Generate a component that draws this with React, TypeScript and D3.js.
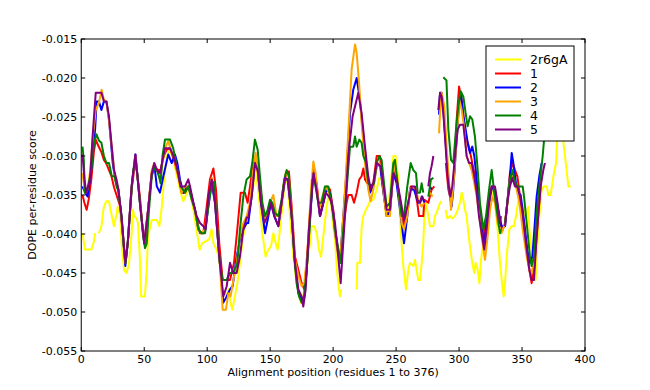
import React from "react";
import * as d3 from "d3";

type Pt = [number, number | null];

const WIDTH = 650;
const HEIGHT = 390;
const MARGIN = { top: 39, right: 65, bottom: 39, left: 81.25 };

// DOPE per-residue profiles, [alignment position, score], null = gap
const template2r6gA: Pt[] = [
  [1,-0.0399],[3,-0.042],[5,-0.042],[8,-0.042],[10,-0.041],[11,-0.0399],[12,null],[14,-0.0399],[16,-0.039],[18,-0.0365],[20,-0.0358],[22,-0.0358],[24,-0.0375],[25,-0.0382],[26,-0.039],[28,-0.0375],[29,-0.0365],[31,-0.0377],[32,-0.0412],[34,-0.0446],[36,-0.045],[38,-0.0437],[40,-0.04],[41,-0.0369],[42,-0.0377],[44,-0.038],[45,-0.0386],[46.5,-0.0429],[47.5,-0.048],[50.5,-0.048],[52,-0.0446],[53,-0.0403],[56,-0.0382],[60,-0.0382],[62,-0.039],[64,-0.0365],[65.5,-0.0335],[68,-0.03],[70.5,-0.0292],[73,-0.0305],[76,-0.0326],[79,-0.0347],[81,-0.0358],[84,-0.0347],[86,-0.0343],[89,-0.0369],[91.5,-0.0394],[94,-0.042],[96,-0.0412],[98,-0.041],[101.5,-0.0407],[103.5,-0.0394],[105,-0.0412],[107.5,-0.042],[110,-0.0437],[112.5,-0.0471],[115.5,-0.048],[117,-0.0471],[118.5,-0.0488],[120,-0.0497],[122,-0.048],[124,-0.0463],[126,-0.0437],[128.5,-0.0403],[131,-0.0386],[133,-0.037],[135.3,-0.0352],[137.5,-0.033],[138.7,-0.0318],[141,-0.0352],[143.8,-0.0399],[146.4,-0.0429],[148.5,-0.042],[150.6,-0.0416],[152.5,-0.0399],[154.4,-0.0412],[156,-0.042],[157.8,-0.0394],[159.7,-0.0365],[161.8,-0.033],[164,-0.0335],[165.7,-0.0377],[168.4,-0.0429],[171,-0.0463],[173,-0.048],[174.5,-0.0488],[176.3,-0.048],[179,-0.0446],[181.6,-0.0412],[183,-0.039],[185,-0.039],[187,-0.0399],[188.8,-0.042],[190.4,-0.0429],[192.2,-0.0403],[194.8,-0.0365],[197.5,-0.0343],[199.5,-0.0382],[201.5,-0.0407],[203,-0.0446],[205.4,-0.048],[206.5,-0.0471],[207.5,null],[218.7,-0.0471],[219.2,-0.0437],[221.3,-0.0437],[222.7,-0.039],[224,-0.0377],[226,-0.0369],[227.3,-0.0365],[229.3,-0.0358],[232,-0.0356],[234.6,-0.0343],[236.7,-0.0328],[238.5,-0.033],[240.4,-0.0352],[242,-0.0377],[243.8,-0.0369],[245.7,-0.0335],[247.8,-0.03],[249.6,-0.03],[251.8,-0.033],[253.6,-0.0394],[255.7,-0.0441],[257.9,-0.0471],[259.7,-0.0446],[261,-0.0437],[263.7,-0.0441],[265,-0.0433],[267.6,-0.0459],[269,-0.0459],[270.3,-0.0437],[271.6,-0.0412],[272.4,-0.0377],[273.5,-0.036],[275.6,-0.0377],[276.9,-0.039],[279.6,-0.039],[280.9,-0.0377],[283,-0.0369],[284.9,-0.036],[286.2,-0.0358],[287.5,null],[289.4,-0.0369],[290.7,-0.038],[292.8,-0.0377],[294.6,-0.038],[296.8,-0.0377],[298.9,-0.0369],[300.7,-0.036],[302.1,-0.0347],[303.4,-0.0356],[304.7,-0.0369],[306,-0.0377],[307.4,-0.0399],[308.7,-0.0416],[310.5,-0.0437],[312.1,-0.045],[313.2,-0.0437],[314.8,-0.0446],[316.1,-0.0463],[317.4,-0.0433],[319.3,-0.0412],[321.1,-0.0386],[323.2,-0.0365],[325.4,-0.0352],[327.2,-0.0343],[328.5,-0.0356],[330.6,-0.0394],[332.5,-0.0437],[334.4,-0.0467],[335.5,-0.048],[336.5,-0.0463],[337.8,-0.0429],[339.9,-0.0394],[341.8,-0.039],[343.6,-0.039],[345.2,-0.0377],[347,-0.0358],[348.9,-0.0358],[350.5,-0.0365],[352.4,-0.0377],[354.2,-0.0369],[355,-0.0365],[355.8,-0.0394],[357.6,-0.042],[359,-0.0459],[360.8,-0.0459],[362.1,-0.0416],[363.7,-0.0377],[365.6,-0.0343],[367.4,-0.0339],[369.6,-0.0339],[370.9,-0.035],[372.7,-0.035],[374.9,-0.0326],[377,-0.0309],[378,-0.0275],[379.6,-0.0262],[380.7,-0.0249],[382.3,-0.0275],[384.1,-0.03],[385.4,-0.0318],[386.8,-0.0339],[388.6,-0.0339],
];

const model1: Pt[] = [
  [1,-0.035],[2.5,-0.036],[4.3,-0.0369],[6,-0.0355],[8,-0.033],[10,-0.0295],[11.5,-0.0279],[13,-0.0285],[14.5,-0.029],[16,-0.0295],[18,-0.0305],[20,-0.031],[22,-0.0318],[24,-0.0326],[26,-0.034],[28,-0.035],[31,-0.0365],[33,-0.04],[35,-0.0437],[37,-0.041],[40,-0.0343],[43,-0.0305],[46.6,-0.0352],[49,-0.04],[51,-0.0412],[53,-0.037],[56,-0.0322],[58,-0.0313],[61,-0.0318],[63,-0.0318],[65.5,-0.03],[67.8,-0.0292],[70.5,-0.029],[74.4,-0.0309],[77.1,-0.0326],[79.7,-0.0347],[82.4,-0.0347],[85,-0.0339],[87.7,-0.0352],[90.3,-0.0369],[93,-0.039],[94.3,-0.0399],[96.9,-0.0399],[99.6,-0.0365],[102.2,-0.033],[104.9,-0.0316],[107,-0.0343],[109.6,-0.0412],[112.3,-0.0459],[115.5,-0.0459],[118.1,-0.0459],[121.3,-0.0437],[123.9,-0.0394],[126.6,-0.0347],[130,-0.0347],[132.1,-0.036],[134,-0.0339],[135.8,-0.0318],[137.9,-0.0305],[139.3,-0.0309],[141.9,-0.0335],[144.6,-0.0377],[145.9,-0.0382],[148.5,-0.0373],[151.2,-0.036],[153.3,-0.0369],[155.1,-0.0377],[157.8,-0.0377],[160.4,-0.0339],[163.1,-0.032],[164.9,-0.032],[167.1,-0.0365],[169.7,-0.0429],[172.4,-0.0446],[175,-0.0463],[177.1,-0.0471],[179,-0.0437],[181.6,-0.0373],[184.3,-0.0318],[186.9,-0.0335],[189.6,-0.0377],[192.2,-0.036],[194.9,-0.0339],[197.5,-0.0343],[200.1,-0.0369],[201.5,-0.0394],[205.4,-0.0437],[208.1,-0.039],[210.7,-0.036],[212,-0.035],[214.7,-0.035],[216.6,-0.036],[218.7,-0.0347],[220.8,-0.033],[222.6,-0.0326],[224,-0.0316],[225.3,-0.033],[227.1,-0.0335],[229.3,-0.0339],[231.9,-0.0335],[234.6,-0.03],[237.2,-0.03],[239.9,-0.0343],[242.5,-0.0377],[245.1,-0.0371],[247.8,-0.0318],[250.4,-0.033],[253.1,-0.036],[256.3,-0.039],[258.9,-0.0369],[261.6,-0.0339],[265,-0.0343],[266.8,-0.036],[268.2,-0.0377],[271.6,-0.0377],[272.5,-0.0356],[275.6,-0.036],[278.2,-0.0343],[280.4,-0.0339],[281,null],[289.5,-0.0309],[291.5,-0.0343],[294.1,-0.036],[296.2,-0.0318],[298.1,-0.0253],[300,-0.0211],[302.1,-0.0228],[304.2,-0.0258],[306,-0.028],[307.9,-0.0288],[310,-0.0305],[312.1,-0.0322],[314,-0.0335],[315.8,-0.036],[318,-0.0386],[319.8,-0.0403],[321.9,-0.0377],[323.8,-0.0352],[325.9,-0.0339],[327.7,-0.0343],[329.9,-0.0369],[331.7,-0.0382],[334.5,-0.0395],[336.5,-0.0386],[338.3,-0.036],[340.4,-0.0322],[342.6,-0.0309],[344.4,-0.0318],[346.3,-0.0326],[348.4,-0.0352],[350.5,-0.0377],[352.4,-0.0403],[355,-0.0437],[357.6,-0.0463],[359.5,-0.0446],[361.6,-0.0403],[363.7,-0.036],[365.6,-0.0322],
];

const model2: Pt[] = [
  [1,-0.0339],[3,-0.0347],[5,-0.0352],[8,-0.0318],[11,-0.0266],[12.2,-0.023],[14,-0.023],[16,-0.0241],[18,-0.023],[20,-0.023],[22,-0.0253],[25,-0.0309],[27,-0.033],[29.5,-0.0343],[32,-0.038],[35,-0.0441],[37,-0.041],[40,-0.0339],[43,-0.0298],[46.6,-0.036],[50,-0.0412],[53,-0.037],[56,-0.0322],[58,-0.0311],[60,-0.0339],[62.5,-0.0347],[65.2,-0.0326],[69.1,-0.0298],[71.8,-0.0309],[74.4,-0.0298],[76.3,-0.0309],[78.4,-0.033],[81,-0.0347],[83.7,-0.0339],[86.4,-0.0343],[90.3,-0.0369],[93,-0.0394],[95.6,-0.0399],[98.3,-0.0397],[100.9,-0.0365],[103.6,-0.0335],[106.2,-0.036],[109.6,-0.0429],[112.8,-0.0488],[115.5,-0.048],[118.1,-0.0471],[120.2,-0.0467],[123.4,-0.0429],[126.6,-0.0403],[128.7,-0.0394],[131.4,-0.0386],[132.6,-0.0386],[135.3,-0.0352],[137.9,-0.0309],[140.1,-0.0318],[142.7,-0.036],[145.9,-0.0399],[148,-0.0382],[150.6,-0.036],[153.3,-0.0377],[156.5,-0.039],[159.1,-0.036],[161.8,-0.033],[163.9,-0.033],[167.1,-0.0377],[169.7,-0.0437],[172.4,-0.0476],[175,-0.0484],[177.1,-0.048],[179,-0.0446],[181.6,-0.0382],[184.3,-0.0322],[186.9,-0.0343],[189.6,-0.0377],[192.2,-0.036],[194.9,-0.0343],[197.5,-0.0347],[200.1,-0.0373],[201.5,-0.0399],[205.4,-0.0437],[208.1,-0.0377],[210.7,-0.0318],[213.4,-0.0245],[216,-0.0215],[218.7,-0.02],[221.3,-0.0228],[224,-0.0275],[226.6,-0.0318],[229.3,-0.0347],[231.9,-0.0339],[234.6,-0.0313],[237.2,-0.0311],[239.9,-0.0347],[242.5,-0.0375],[245.1,-0.0373],[247.8,-0.0322],[250.4,-0.0335],[253.1,-0.0369],[256.3,-0.0412],[258.9,-0.0377],[261,-0.0343],[264.2,-0.0343],[266.8,-0.0356],[267.6,-0.036],[269,-0.036],[270.8,-0.0352],[272.4,-0.036],[274,null],[276.9,-0.0339],[278.2,-0.0343],[280,null],[284.1,-0.0247],[284.9,-0.0219],[286.2,-0.0219],[287.5,-0.0241],[290.1,-0.03],[292.8,-0.0352],[294.1,-0.0365],[295.4,-0.0343],[298.1,-0.0279],[299.9,-0.0236],[301.5,-0.0221],[303.4,-0.0249],[305.2,-0.0266],[307.4,-0.0288],[308.7,-0.0296],[310.5,-0.0288],[312.1,-0.03],[314,-0.033],[315.8,-0.0369],[317.9,-0.0394],[320.1,-0.0412],[321.9,-0.0386],[324.6,-0.0352],[326.4,-0.0339],[328.5,-0.0343],[330.6,-0.0365],[333.8,-0.039],[336.5,-0.039],[338.3,-0.036],[340.4,-0.0326],[341.8,-0.0296],[343.1,-0.0309],[345.2,-0.0335],[347.1,-0.0347],[348.9,-0.035],[350.5,-0.0369],[352.4,-0.0394],[354.2,-0.042],[356.3,-0.0437],[358.2,-0.0429],[359.8,-0.0394],[361.6,-0.0352],[363.7,-0.0326],[365.6,-0.0309],
];

const model3: Pt[] = [
  [1,-0.0322],[3,-0.0347],[5,-0.0343],[7,-0.032],[9.5,-0.0271],[11.5,-0.0241],[14,-0.0232],[16.2,-0.0215],[18,-0.0228],[20,-0.023],[22,-0.0255],[25,-0.03],[27,-0.033],[29.5,-0.0343],[32,-0.038],[35,-0.0437],[37,-0.041],[40,-0.0339],[43,-0.03],[46.6,-0.0358],[50,-0.0412],[53,-0.037],[56,-0.0318],[58,-0.0309],[60,-0.0318],[62.5,-0.033],[66.5,-0.029],[69.1,-0.0281],[71.8,-0.0296],[74.4,-0.0305],[77.1,-0.0326],[79.7,-0.0347],[82.4,-0.0339],[85,-0.0339],[87.7,-0.0352],[90.3,-0.0371],[93,-0.0394],[95.6,-0.0399],[98.3,-0.0394],[100.9,-0.036],[103.6,-0.0328],[106.2,-0.0356],[109.6,-0.0429],[112.3,-0.0497],[114.9,-0.0497],[116.8,-0.0476],[118.6,-0.048],[120.8,-0.0459],[123.4,-0.0437],[126,-0.0403],[128.7,-0.0386],[131.4,-0.0377],[134,-0.036],[136.6,-0.0318],[138.5,-0.0296],[140.6,-0.0326],[144.6,-0.0377],[146.4,-0.0382],[149.9,-0.036],[152.5,-0.035],[155.1,-0.0377],[157.8,-0.0377],[160.4,-0.0343],[162.3,-0.0322],[164.4,-0.0326],[167.1,-0.0373],[169.7,-0.0433],[172.4,-0.0454],[175,-0.0467],[177.1,-0.0463],[179.8,-0.042],[182.4,-0.0343],[184.3,-0.0307],[186.1,-0.0322],[188.8,-0.0369],[191.4,-0.0352],[194.1,-0.0339],[196.7,-0.0347],[199.4,-0.0365],[200.1,-0.0377],[202.8,-0.0416],[205.4,-0.0437],[208.1,-0.0377],[210.7,-0.0309],[212.9,-0.0245],[214.7,-0.0189],[217.4,-0.0157],[218.7,-0.0168],[220.8,-0.0211],[222.6,-0.0258],[225.3,-0.0309],[227.9,-0.0343],[229.8,-0.0358],[231.9,-0.0343],[234.6,-0.0313],[236.7,-0.0309],[238.5,-0.0318],[240.4,-0.0352],[242.5,-0.0377],[245.1,-0.0377],[247.3,-0.0326],[249.1,-0.0309],[251.8,-0.0343],[254.4,-0.0386],[256.3,-0.0394],[258.9,-0.0377],[261,-0.0343],[263.1,-0.0339],[265.8,-0.0343],[267.6,-0.0356],[270.3,-0.0365],[272.4,-0.036],[273.5,null],[276.9,-0.0347],[279,-0.0352],[280,null],[284.1,-0.0271],[284.9,-0.0245],[286.2,-0.0219],[288.3,-0.0236],[290.1,-0.0288],[292.3,-0.0339],[293.6,-0.0369],[295.4,-0.0339],[298.1,-0.0279],[300.2,-0.0228],[302.1,-0.0241],[304.2,-0.0266],[306,-0.03],[307.9,-0.0309],[310,-0.0318],[312.1,-0.0335],[314,-0.0352],[316.1,-0.0377],[317.9,-0.0403],[320.6,-0.0433],[322.7,-0.0403],[324.6,-0.0369],[326.4,-0.0352],[328.5,-0.036],[330.6,-0.0386],[333.8,-0.0399],[336.5,-0.0386],[338.5,-0.036],[340.4,-0.033],[342.6,-0.0326],[345.2,-0.0339],[347.9,-0.036],[350.5,-0.0394],[353.7,-0.0429],[356.8,-0.0454],[359.5,-0.0437],[361.6,-0.0394],[363.7,-0.0352],[365.6,-0.0322],
];

const model4: Pt[] = [
  [1,-0.0288],[2,-0.0305],[3,-0.0347],[5,-0.0343],[8,-0.0318],[10,-0.0285],[12,-0.0272],[14,-0.028],[16,-0.0283],[18,-0.03],[20,-0.0309],[22,-0.0309],[23,-0.0316],[24.2,-0.0326],[26.5,-0.0326],[28,-0.0339],[29.5,-0.0345],[32,-0.0377],[34,-0.042],[35.3,-0.0437],[37.4,-0.0403],[40,-0.0343],[41.3,-0.0318],[43,-0.0309],[44.5,-0.0322],[46.6,-0.036],[49.3,-0.0403],[50.6,-0.0418],[52,-0.0412],[53.8,-0.0369],[56,-0.0326],[57.8,-0.0316],[60,-0.0318],[61.7,-0.0326],[63,-0.0335],[64.5,-0.03],[66.5,-0.0279],[70.5,-0.0279],[73,-0.029],[75.8,-0.0313],[79,-0.0339],[82.4,-0.0347],[85,-0.0339],[87.7,-0.0356],[90.3,-0.0369],[93,-0.0394],[95.6,-0.0399],[98.3,-0.0399],[100.9,-0.0365],[103.6,-0.0335],[105.4,-0.0333],[108,-0.0394],[110,-0.0437],[112.3,-0.0459],[115.5,-0.0459],[118,-0.045],[120.8,-0.045],[124,-0.0437],[126,-0.0394],[128.7,-0.0352],[131.3,-0.033],[134,-0.0326],[135.8,-0.0309],[137.9,-0.0279],[140.1,-0.0292],[141.9,-0.0326],[143.8,-0.036],[145.9,-0.0377],[148,-0.0369],[149.9,-0.0356],[151.7,-0.036],[153.8,-0.0373],[156.5,-0.0377],[159.1,-0.0356],[161.2,-0.033],[163.1,-0.0318],[164.9,-0.0326],[167.1,-0.0377],[169.2,-0.0429],[171,-0.0463],[172.9,-0.048],[175,-0.0488],[177.1,-0.048],[179,-0.0446],[181.6,-0.0386],[183.5,-0.033],[185.6,-0.0335],[188.2,-0.036],[190.9,-0.036],[193.5,-0.0339],[196.2,-0.0339],[198.3,-0.0356],[200.1,-0.0377],[201.5,-0.0394],[206,-0.0437],[208.1,-0.0394],[210.7,-0.0343],[213.4,-0.0288],[216,-0.0288],[217.4,-0.0275],[218.7,-0.0288],[220.8,-0.0279],[222.6,-0.0283],[224,-0.03],[226.1,-0.0309],[227.9,-0.0335],[230.6,-0.0339],[232.4,-0.0335],[234.6,-0.0309],[236.7,-0.03],[238.5,-0.0305],[240.4,-0.0335],[242.5,-0.0365],[245.1,-0.036],[247.8,-0.0309],[249.1,-0.0305],[251.8,-0.0343],[254.4,-0.0377],[256.3,-0.0377],[258.9,-0.0339],[261.6,-0.0309],[263.7,-0.0318],[265.8,-0.0322],[267.1,-0.0347],[269,-0.0347],[270.3,-0.0335],[271.6,-0.0347],[273,null],[275.6,-0.0352],[277.7,-0.033],[279.6,-0.0328],[281,null],[287.5,-0.0199],[290,-0.0203],[291.5,-0.0266],[293.6,-0.0305],[295.4,-0.0309],[297.3,-0.0271],[299.4,-0.0236],[301.3,-0.0217],[303.4,-0.0224],[305.2,-0.0245],[306.8,-0.0262],[308.7,-0.0249],[310.5,-0.0253],[312.6,-0.0275],[314.8,-0.0318],[316.6,-0.036],[319.3,-0.0394],[321.4,-0.0377],[323.8,-0.0343],[325.9,-0.0318],[327.7,-0.0343],[329.9,-0.0369],[332.5,-0.0399],[333.3,-0.0394],[334.5,null],[336.5,-0.0386],[340.4,-0.033],[342.6,-0.0318],[343.6,-0.0328],[345.7,-0.0339],[348.4,-0.0339],[350.5,-0.0339],[351.6,-0.0352],[353.7,-0.0386],[356.3,-0.0429],[357.6,-0.0441],[359.5,-0.0429],[361.6,-0.0373],[364.3,-0.033],[366.4,-0.03],[368.2,-0.0266],[369.6,-0.0245],[372,-0.022],[374,-0.02],
];

const model5: Pt[] = [
  [1,-0.0298],[2.5,-0.033],[4,-0.0347],[7,-0.033],[9,-0.0275],[11.5,-0.0219],[14,-0.0219],[16,-0.0219],[18,-0.023],[20,-0.023],[22,-0.0249],[24,-0.0284],[26,-0.0318],[28,-0.033],[29.5,-0.0343],[32,-0.0377],[35,-0.0437],[37,-0.041],[40,-0.0339],[43,-0.0298],[46.6,-0.036],[50,-0.0412],[53,-0.037],[56,-0.0322],[58,-0.0309],[60,-0.0318],[62.5,-0.0322],[66.5,-0.029],[70.5,-0.029],[73.1,-0.03],[75.8,-0.0313],[78.9,-0.0339],[82.4,-0.0339],[85,-0.033],[86.4,-0.0339],[89,-0.036],[91.6,-0.0377],[94.3,-0.0386],[96.9,-0.039],[98.8,-0.0394],[100.9,-0.0352],[103.6,-0.033],[106.2,-0.036],[109.6,-0.0429],[112.8,-0.048],[115.5,-0.0467],[118.1,-0.0437],[120.8,-0.045],[123.4,-0.045],[126,-0.0429],[128.7,-0.0394],[131.4,-0.0379],[132.6,-0.0379],[135.3,-0.0352],[137.9,-0.0309],[140.1,-0.0318],[142.7,-0.036],[145.4,-0.0386],[148,-0.0377],[150.6,-0.036],[153.3,-0.0377],[156.5,-0.039],[159.1,-0.036],[161.8,-0.0328],[163.9,-0.033],[167.1,-0.0377],[169.7,-0.0437],[172.4,-0.0471],[175,-0.048],[176.3,-0.0493],[178.2,-0.0471],[180.8,-0.0394],[184.3,-0.0322],[186.9,-0.0343],[189.6,-0.0377],[192.2,-0.036],[194.1,-0.0347],[196.7,-0.0352],[198.8,-0.036],[201.5,-0.0386],[203.5,-0.0420],[206,-0.0463],[209.4,-0.0377],[212,-0.03],[215.5,-0.0249],[220,-0.0219],[222.6,-0.0245],[225.3,-0.0288],[227.9,-0.0326],[229.8,-0.0343],[231.9,-0.0335],[234.6,-0.0309],[237.7,-0.0313],[240.4,-0.0343],[242.5,-0.0369],[245.1,-0.0369],[247.8,-0.0322],[250.4,-0.033],[253.1,-0.0352],[256.3,-0.0382],[258.9,-0.0365],[262.4,-0.0339],[265,-0.0339],[266.8,-0.0356],[269,-0.036],[270.3,-0.0352],[271.6,-0.0356],[273,null],[275.6,-0.0339],[276.9,-0.0322],[278.2,-0.0313],[279.6,-0.03],[281,null],[283.5,-0.0241],[284.9,-0.0219],[286.2,-0.0224],[287.5,-0.0245],[288.8,-0.0275],[290.9,-0.0326],[293,-0.0352],[294.6,-0.0339],[296.8,-0.03],[298.9,-0.0266],[300.7,-0.026],[303.4,-0.026],[304.7,-0.0279],[306,-0.03],[307.9,-0.0309],[310,-0.0309],[312.1,-0.0326],[314,-0.0347],[315.8,-0.0377],[317.9,-0.0399],[320,-0.042],[321.9,-0.0394],[323.8,-0.036],[325.9,-0.0339],[328.5,-0.0339],[330.6,-0.036],[332.5,-0.0386],[333.3,-0.0377],[334.5,null],[336.5,-0.039],[338.3,-0.036],[340.4,-0.0339],[342.3,-0.0328],[344.4,-0.0339],[346.3,-0.0339],[348.4,-0.0352],[350.5,-0.0373],[353.1,-0.0412],[355.8,-0.0446],[357.6,-0.0459],[359.5,-0.0459],[361.1,-0.0416],[363,-0.0373],[364.8,-0.0339],[366.9,-0.0318],[368.2,-0.0309],
];

const seriesNames = ["2r6gA", "1", "2", "3", "4", "5"];
const seriesData = [template2r6gA, model1, model2, model3, model4, model5];
const seriesColors = ["#ffff00", "#ff0000", "#0000ff", "#ffa500", "#008000", "#800080"];

const xTickValues = [0, 50, 100, 150, 200, 250, 300, 350, 400];
const yTickValues = [-0.055, -0.05, -0.045, -0.04, -0.035, -0.03, -0.025, -0.02, -0.015];

const FONT = "'DejaVu Sans', sans-serif";

const App = () => {
  const left = MARGIN.left;
  const right = WIDTH - MARGIN.right;
  const top = MARGIN.top;
  const bottom = HEIGHT - MARGIN.bottom;

  const xScale = d3.scaleLinear().domain([0, 400]).range([left, right]);
  const yScale = d3.scaleLinear().domain([-0.055, -0.015]).range([bottom, top]);

  const line = d3
    .line<Pt>()
    .defined((d) => d[1] !== null)
    .x((d) => xScale(d[0]))
    .y((d) => yScale(d[1] as number));

  const paths = seriesData.map((data, i) => (
    <path
      key={seriesNames[i]}
      d={line(data) || ""}
      fill="none"
      stroke={seriesColors[i]}
      strokeWidth={2}
      strokeLinejoin="round"
    />
  ));

  // ticks point inwards on all four sides, like old matplotlib
  const TL = 4;
  const xTicks = xTickValues.map((v) => {
    const x = xScale(v);
    return (
      <g key={"x" + v}>
        <line x1={x} x2={x} y1={bottom} y2={bottom - TL} stroke="black" />
        <line x1={x} x2={x} y1={top} y2={top + TL} stroke="black" />
        <text x={x} y={363} textAnchor="middle" fontSize={11} fontFamily={FONT}>
          {v}
        </text>
      </g>
    );
  });

  const yTicks = yTickValues.map((v) => {
    const y = yScale(v);
    return (
      <g key={"y" + v}>
        <line x1={left} x2={left + TL} y1={y} y2={y} stroke="black" />
        <line x1={right} x2={right - TL} y1={y} y2={y} stroke="black" />
        <text
          x={left - 4}
          y={y}
          dy="0.35em"
          textAnchor="end"
          fontSize={11}
          fontFamily={FONT}
        >
          {v.toFixed(3)}
        </text>
      </g>
    );
  });

  const legendX = 486;
  const legendY = 46;
  const legend = (
    <g>
      <rect x={legendX} y={legendY} width={88} height={95} fill="white" stroke="black" />
      {seriesNames.map((name, i) => {
        const y = legendY + 13.5 + i * 14;
        return (
          <g key={"lg" + name}>
            <line x1={legendX + 9} x2={legendX + 35} y1={y} y2={y} stroke={seriesColors[i]} strokeWidth={2} />
            <text x={legendX + 44} y={y} dy="0.35em" fontSize={12.5} fontFamily={FONT}>
              {name}
            </text>
          </g>
        );
      })}
    </g>
  );

  return (
    <div style={{ position: "absolute", left: 0, top: 0 }}>
      <svg width={WIDTH} height={HEIGHT} style={{ display: "block", background: "white" }}>
        <defs>
          <clipPath id="plot-area">
            <rect x={left} y={top} width={right - left} height={bottom - top} />
          </clipPath>
        </defs>
        <g clipPath="url(#plot-area)">{paths}</g>
        <rect x={left} y={top} width={right - left} height={bottom - top} fill="none" stroke="black" />
        {xTicks}
        {yTicks}
        {legend}
        <text x={(left + right) / 2} y={376} textAnchor="middle" fontSize={11} fontFamily={FONT}>
          Alignment position (residues 1 to 376)
        </text>
        <text
          transform={`translate(36,${(top + bottom) / 2}) rotate(-90)`}
          textAnchor="middle"
          fontSize={11}
          fontFamily={FONT}
        >
          DOPE per-residue score
        </text>
      </svg>
    </div>
  );
};

export default App;
